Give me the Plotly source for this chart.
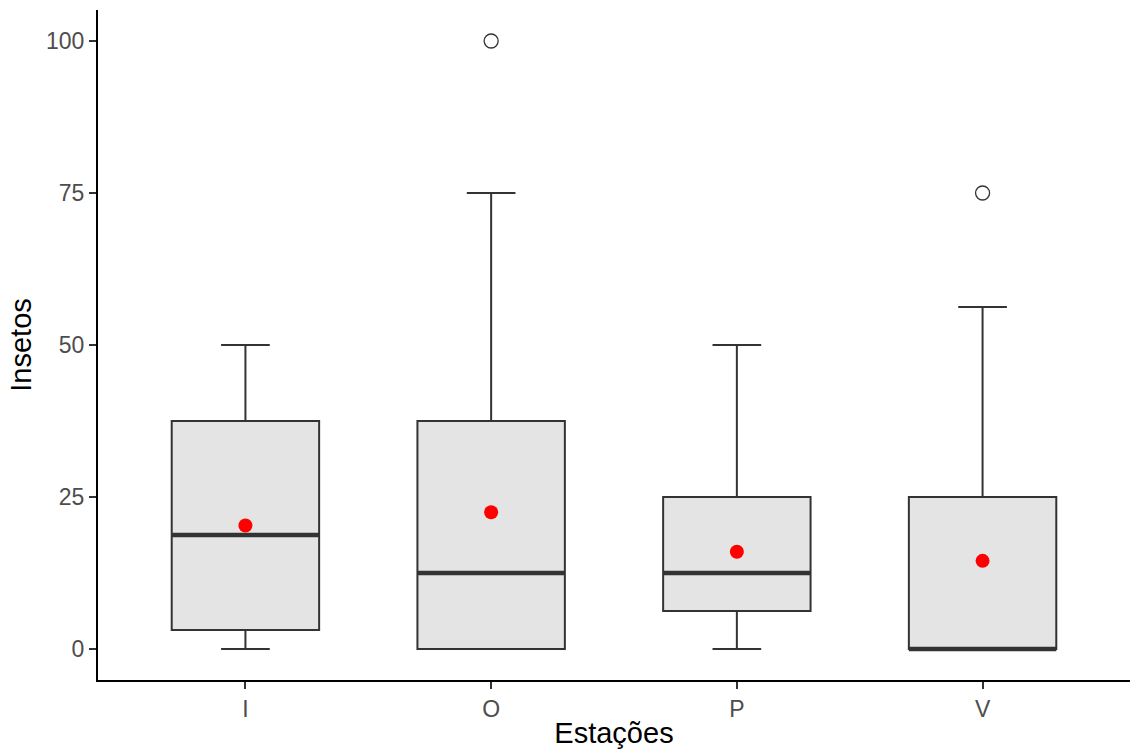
import plotly.graph_objects as go

categories = ["I", "O", "P", "V"]
q1 = [3.125, 0.0, 6.25, 0.0]
median = [18.75, 12.5, 12.5, 0.0]
q3 = [37.5, 37.5, 25.0, 25.0]
lower_whisker = [0.0, 0.0, 0.0, 0.0]
upper_whisker = [50.0, 75.0, 50.0, 56.25]
mean = [20.3, 22.5, 16.0, 14.5]
outlier_cat = ["O", "V"]
outlier_val = [100.0, 75.0]
y_ticks = [0, 25, 50, 75, 100]

pos = {c: i + 1 for i, c in enumerate(categories)}
xs = [pos[c] for c in categories]
box_w = 0.6

fig = go.Figure()
fig.add_trace(go.Box(
    x=xs, q1=q1, median=median, q3=q3,
    lowerfence=lower_whisker, upperfence=upper_whisker,
    width=box_w, whiskerwidth=0.33,
    fillcolor="#E4E4E4", line=dict(color="#333333", width=2),
    boxpoints=False, hoverinfo="skip", showlegend=False,
))

# thicker median lines (ggplot fatten)
mx, my = [], []
for x, m in zip(xs, median):
    mx += [x - box_w / 2, x + box_w / 2, None]
    my += [m, m, None]
fig.add_trace(go.Scatter(x=mx, y=my, mode="lines",
                         line=dict(color="#333333", width=4.5),
                         showlegend=False, hoverinfo="skip"))

fig.add_trace(go.Scatter(
    x=[pos[c] for c in outlier_cat], y=outlier_val, mode="markers",
    marker=dict(symbol="circle-open", size=14, color="#333333", line=dict(width=1.3)),
    showlegend=False))

fig.add_trace(go.Scatter(
    x=xs, y=mean, mode="markers",
    marker=dict(symbol="circle", size=14, color="#FF0000"),
    showlegend=False))

fig.update_layout(
    width=1135, height=753,
    margin=dict(l=98, r=5, t=10, b=73, autoexpand=False),
    paper_bgcolor="white", plot_bgcolor="white",
    font=dict(family="Liberation Sans, Arial, sans-serif"),
)
fig.update_xaxes(
    range=[0.4, 4.6], tickvals=xs, ticktext=categories,
    showgrid=False, zeroline=False,
    showline=True, linecolor="black", linewidth=2,
    ticks="outside", ticklen=7, tickwidth=2, tickcolor="#333333",
    tickfont=dict(size=23, color="#4D4D4D"),
    title=dict(text="Estações", font=dict(size=29, color="black"), standoff=2),
    automargin=False,
)
fig.update_yaxes(
    range=[-5.1, 105.1], tickvals=y_ticks,
    showgrid=False, zeroline=False,
    showline=True, linecolor="black", linewidth=2,
    ticks="outside", ticklen=7, tickwidth=2, tickcolor="#333333",
    tickfont=dict(size=23, color="#4D4D4D"),
    title=dict(text="Insetos", font=dict(size=29, color="black"), standoff=6),
    automargin=False,
)

fig.write_html("out.html", config={"displayModeBar": False},
               post_script="document.body.style.margin='0';document.body.style.padding='0';document.body.style.overflow='hidden';")
